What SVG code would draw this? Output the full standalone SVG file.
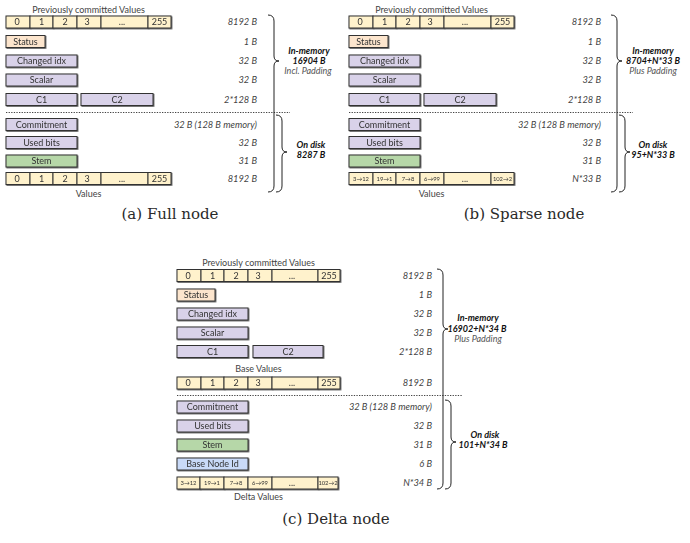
<svg xmlns="http://www.w3.org/2000/svg" width="690" height="543" viewBox="0 0 690 543">
<defs>
<filter id="sh" x="-5%" y="-20%" width="115%" height="150%"><feDropShadow dx="0.8" dy="0.8" stdDeviation="0" flood-color="#555"/></filter>
</defs>
<style>
rect{stroke:#333;stroke-width:1}
.y{fill:#fff2cc}.o{fill:#fce5cd}.p{fill:#d9d2e9}.g{fill:#b6d7a8}.b{fill:#c9daf8}
.box{filter:url(#sh)}
text{font-family:Lato,"DejaVu Sans",sans-serif;font-size:9px}
.bx{fill:#333;text-anchor:middle}
.sm{fill:#333;text-anchor:middle;font-size:5.8px}
.sz{fill:#444;font-style:italic;text-anchor:end;font-size:9.3px}
.lb{fill:#111;font-weight:bold;font-style:italic;text-anchor:middle}
.lp{fill:#555;font-style:italic;text-anchor:middle}
.tt{fill:#444;text-anchor:middle}
.cap{font-family:"DejaVu Serif",serif;font-size:15px;fill:#2a2a2a;text-anchor:middle}
.br{fill:none;stroke:#222;stroke-width:1}
.dot{stroke:#444;stroke-width:1;stroke-dasharray:1.3 1.3}
</style>

<!-- Panel (a) -->
<g id="panel-a">
<text class="tt" x="88.5" y="12.5">Previously committed Values</text>
<g id="a-prev" class="box">
<rect class="y" x="6" y="16" width="24" height="12"/><rect class="y" x="30" y="16" width="23" height="12"/><rect class="y" x="53" y="16" width="24" height="12"/><rect class="y" x="77" y="16" width="24" height="12"/><rect class="y" x="101" y="16" width="47" height="12"/><rect class="y" x="148" y="16" width="23" height="12"/>
<text class="bx" x="17" y="25.2">0</text><text class="bx" x="41.5" y="25.2">1</text><text class="bx" x="65" y="25.2">2</text><text class="bx" x="87" y="25.2">3</text><text class="bx" x="122" y="25.2">...</text><text class="bx" x="159.5" y="25.2">255</text>
</g>
<g id="a-status" class="box"><rect class="o" x="6" y="35.5" width="39" height="12"/><text class="bx" x="25.5" y="44.7">Status</text></g>
<g id="a-changed" class="box"><rect class="p" x="6" y="55" width="71" height="12"/><text class="bx" x="41.5" y="64.2">Changed idx</text></g>
<g id="a-scalar" class="box"><rect class="p" x="6" y="74" width="71" height="12"/><text class="bx" x="41.5" y="83.2">Scalar</text></g>
<g id="a-c1" class="box"><rect class="p" x="6" y="93.5" width="71" height="12"/><text class="bx" x="41.5" y="102.7">C1</text></g>
<g id="a-c2" class="box"><rect class="p" x="81" y="93.5" width="72" height="12"/><text class="bx" x="117" y="102.7">C2</text></g>
<g id="a-commit" class="box"><rect class="p" x="6" y="118.5" width="71" height="12"/><text class="bx" x="41.5" y="127.7">Commitment</text></g>
<g id="a-used" class="box"><rect class="p" x="6" y="136.5" width="71" height="12"/><text class="bx" x="41.5" y="145.7">Used bits</text></g>
<g id="a-stem" class="box"><rect class="g" x="6" y="155" width="71" height="12"/><text class="bx" x="41.5" y="164.2">Stem</text></g>
<g id="a-values" class="box">
<rect class="y" x="6" y="172.5" width="24" height="12"/><rect class="y" x="30" y="172.5" width="23" height="12"/><rect class="y" x="53" y="172.5" width="24" height="12"/><rect class="y" x="77" y="172.5" width="24" height="12"/><rect class="y" x="101" y="172.5" width="47" height="12"/><rect class="y" x="148" y="172.5" width="23" height="12"/>
<text class="bx" x="17" y="181.7">0</text><text class="bx" x="41.5" y="181.7">1</text><text class="bx" x="65" y="181.7">2</text><text class="bx" x="87" y="181.7">3</text><text class="bx" x="122" y="181.7">...</text><text class="bx" x="159.5" y="181.7">255</text>
</g>
<text class="tt" x="88.5" y="197">Values</text>
<g id="a-sizes">
<text class="sz" x="257" y="25.2">8192 B</text><text class="sz" x="257" y="44.7">1 B</text><text class="sz" x="257" y="64.2">32 B</text><text class="sz" x="257" y="83.2">32 B</text><text class="sz" x="257" y="102.7">2*128 B</text><text class="sz" x="257" y="127.7">32 B (128 B memory)</text><text class="sz" x="257" y="145.7">32 B</text><text class="sz" x="257" y="164.2">31 B</text><text class="sz" x="257" y="181.7">8192 B</text>
</g>
<g id="a-labels">
<text class="lb" x="309" y="54">In-memory</text><text class="lb" x="309" y="64">16904 B</text><text class="lp" x="308" y="74">Incl. Padding</text>
<text class="lb" x="311" y="148">On disk</text><text class="lb" x="311" y="158">8287 B</text>
</g>
<text class="cap" x="170" y="219">(a) Full node</text>
</g>

<!-- Panel (b) -->
<g id="panel-b" transform="translate(343,0)">
<text class="tt" x="88.5" y="12.5">Previously committed Values</text>
<g id="b-prev" class="box">
<rect class="y" x="6" y="16" width="24" height="12"/><rect class="y" x="30" y="16" width="23" height="12"/><rect class="y" x="53" y="16" width="24" height="12"/><rect class="y" x="77" y="16" width="24" height="12"/><rect class="y" x="101" y="16" width="47" height="12"/><rect class="y" x="148" y="16" width="23" height="12"/>
<text class="bx" x="17" y="25.2">0</text><text class="bx" x="41.5" y="25.2">1</text><text class="bx" x="65" y="25.2">2</text><text class="bx" x="87" y="25.2">3</text><text class="bx" x="122" y="25.2">...</text><text class="bx" x="159.5" y="25.2">255</text>
</g>
<g id="b-status" class="box"><rect class="o" x="6" y="35.5" width="39" height="12"/><text class="bx" x="25.5" y="44.7">Status</text></g>
<g id="b-changed" class="box"><rect class="p" x="6" y="55" width="71" height="12"/><text class="bx" x="41.5" y="64.2">Changed idx</text></g>
<g id="b-scalar" class="box"><rect class="p" x="6" y="74" width="71" height="12"/><text class="bx" x="41.5" y="83.2">Scalar</text></g>
<g id="b-c1" class="box"><rect class="p" x="6" y="93.5" width="71" height="12"/><text class="bx" x="41.5" y="102.7">C1</text></g>
<g id="b-c2" class="box"><rect class="p" x="81" y="93.5" width="72" height="12"/><text class="bx" x="117" y="102.7">C2</text></g>
<g id="b-commit" class="box"><rect class="p" x="6" y="118.5" width="71" height="12"/><text class="bx" x="41.5" y="127.7">Commitment</text></g>
<g id="b-used" class="box"><rect class="p" x="6" y="136.5" width="71" height="12"/><text class="bx" x="41.5" y="145.7">Used bits</text></g>
<g id="b-stem" class="box"><rect class="g" x="6" y="155" width="71" height="12"/><text class="bx" x="41.5" y="164.2">Stem</text></g>
<g id="b-values" class="box">
<rect class="y" x="6" y="172.5" width="24" height="12"/><rect class="y" x="30" y="172.5" width="23" height="12"/><rect class="y" x="53" y="172.5" width="24" height="12"/><rect class="y" x="77" y="172.5" width="24" height="12"/><rect class="y" x="101" y="172.5" width="47" height="12"/><rect class="y" x="148" y="172.5" width="23" height="12"/>
<text class="sm" x="18" y="180.8">3→12</text><text class="sm" x="41.5" y="180.8">19→1</text><text class="sm" x="65" y="180.8">7→8</text><text class="sm" x="89" y="180.8">6→99</text><text class="bx" x="122" y="181.7">...</text><text class="sm" x="159.5" y="180.8">102→2</text>
</g>
<text class="tt" x="88.5" y="197">Values</text>
<g id="b-sizes">
<text class="sz" x="258" y="25.2">8192 B</text><text class="sz" x="258" y="44.7">1 B</text><text class="sz" x="258" y="64.2">32 B</text><text class="sz" x="258" y="83.2">32 B</text><text class="sz" x="258" y="102.7">2*128 B</text><text class="sz" x="258" y="127.7">32 B (128 B memory)</text><text class="sz" x="258" y="145.7">32 B</text><text class="sz" x="258" y="164.2">31 B</text><text class="sz" x="258" y="181.7">N*33 B</text>
</g>
<g id="b-labels">
<text class="lb" x="310" y="54">In-memory</text><text class="lb" x="310" y="64">8704+N*33 B</text><text class="lp" x="310" y="74">Plus Padding</text>
<text class="lb" x="310" y="148">On disk</text><text class="lb" x="310" y="158">95+N*33 B</text>
</g>
<text class="cap" x="181" y="219">(b) Sparse node</text>
</g>

<!-- Panel (c) -->
<g id="panel-c">
<text class="tt" x="258.5" y="266">Previously committed Values</text>
<g id="c-prev" class="box">
<rect class="y" x="177" y="269.5" width="24" height="12"/><rect class="y" x="201" y="269.5" width="23" height="12"/><rect class="y" x="224" y="269.5" width="24" height="12"/><rect class="y" x="248" y="269.5" width="24" height="12"/><rect class="y" x="272" y="269.5" width="46" height="12"/><rect class="y" x="318" y="269.5" width="22" height="12"/>
<text class="bx" x="188" y="278.7">0</text><text class="bx" x="212.5" y="278.7">1</text><text class="bx" x="236" y="278.7">2</text><text class="bx" x="258" y="278.7">3</text><text class="bx" x="292" y="278.7">...</text><text class="bx" x="329" y="278.7">255</text>
</g>
<g id="c-status" class="box"><rect class="o" x="177" y="289" width="38" height="12"/><text class="bx" x="196" y="298.2">Status</text></g>
<g id="c-changed" class="box"><rect class="p" x="177" y="308" width="71" height="12"/><text class="bx" x="212.5" y="317.2">Changed idx</text></g>
<g id="c-scalar" class="box"><rect class="p" x="177" y="327" width="71" height="12"/><text class="bx" x="212.5" y="336.2">Scalar</text></g>
<g id="c-c1" class="box"><rect class="p" x="177" y="345.5" width="71" height="12"/><text class="bx" x="212.5" y="354.7">C1</text></g>
<g id="c-c2" class="box"><rect class="p" x="253" y="345.5" width="70" height="12"/><text class="bx" x="288" y="354.7">C2</text></g>
<text class="tt" x="258.5" y="372">Base Values</text>
<g id="c-base" class="box">
<rect class="y" x="177" y="377" width="24" height="12"/><rect class="y" x="201" y="377" width="23" height="12"/><rect class="y" x="224" y="377" width="24" height="12"/><rect class="y" x="248" y="377" width="24" height="12"/><rect class="y" x="272" y="377" width="46" height="12"/><rect class="y" x="318" y="377" width="22" height="12"/>
<text class="bx" x="188" y="386.2">0</text><text class="bx" x="212.5" y="386.2">1</text><text class="bx" x="236" y="386.2">2</text><text class="bx" x="258" y="386.2">3</text><text class="bx" x="292" y="386.2">...</text><text class="bx" x="329" y="386.2">255</text>
</g>
<g id="c-commit" class="box"><rect class="p" x="177" y="401" width="71" height="12"/><text class="bx" x="212.5" y="410.2">Commitment</text></g>
<g id="c-used" class="box"><rect class="p" x="177" y="420" width="71" height="12"/><text class="bx" x="212.5" y="429.2">Used bits</text></g>
<g id="c-stem" class="box"><rect class="g" x="177" y="439" width="71" height="12"/><text class="bx" x="212.5" y="448.2">Stem</text></g>
<g id="c-basenode" class="box"><rect class="b" x="177" y="458" width="71" height="12"/><text class="bx" x="212.5" y="467.2">Base Node Id</text></g>
<g id="c-delta" class="box">
<rect class="y" x="177" y="477" width="23" height="12"/><rect class="y" x="200" y="477" width="24" height="12"/><rect class="y" x="224" y="477" width="24" height="12"/><rect class="y" x="248" y="477" width="24" height="12"/><rect class="y" x="272" y="477" width="46" height="12"/><rect class="y" x="318" y="477" width="20" height="12"/>
<text class="sm" x="188.5" y="485.3">3→12</text><text class="sm" x="212" y="485.3">19→1</text><text class="sm" x="236" y="485.3">7→8</text><text class="sm" x="260" y="485.3">6→99</text><text class="bx" x="292" y="486.2">...</text><text class="sm" x="328" y="485.3">102→2</text>
</g>
<text class="tt" x="258.5" y="500">Delta Values</text>
<g id="c-sizes">
<text class="sz" x="432" y="278.7">8192 B</text><text class="sz" x="432" y="298.2">1 B</text><text class="sz" x="432" y="317.2">32 B</text><text class="sz" x="432" y="336.2">32 B</text><text class="sz" x="432" y="354.7">2*128 B</text><text class="sz" x="432" y="386.2">8192 B</text><text class="sz" x="432" y="410.2">32 B (128 B memory)</text><text class="sz" x="432" y="429.2">32 B</text><text class="sz" x="432" y="448.2">31 B</text><text class="sz" x="432" y="467.2">6 B</text><text class="sz" x="432" y="486.2">N*34 B</text>
</g>
<g id="c-labels">
<text class="lb" x="478" y="321">In-memory</text><text class="lb" x="477" y="331.5">16902+N*34 B</text><text class="lp" x="478" y="342">Plus Padding</text>
<text class="lb" x="485" y="438">On disk</text><text class="lb" x="483" y="448">101+N*34 B</text>
</g>
<text class="cap" x="336" y="524">(c) Delta node</text>
</g>

<!-- Connectors: braces and separators -->
<g id="connectors">
<line class="dot" x1="6" y1="112.5" x2="290" y2="112.5"/>
<line class="dot" x1="349" y1="112.5" x2="633" y2="112.5"/>
<line class="dot" x1="177" y1="395.5" x2="462" y2="395.5"/>
<path class="br" d="M268,15 Q274,15 274,21 L274,56 Q274,61 279,61 Q274,61 274,66 L274,186 Q274,192 268,192"/>
<path class="br" d="M276,115 Q282,115 282,121 L282,147 Q282,152 287,152 Q282,152 282,157 L282,186 Q282,192 276,192"/>
<path class="br" d="M611,15 Q617,15 617,21 L617,56 Q617,61 622,61 Q617,61 617,66 L617,186 Q617,192 611,192"/>
<path class="br" d="M619,115 Q625,115 625,121 L625,147 Q625,152 630,152 Q625,152 625,157 L625,186 Q625,192 619,192"/>
<path class="br" d="M437,269 Q443,269 443,275 L443,324 Q443,329 448,329 Q443,329 443,334 L443,483 Q443,489 437,489"/>
<path class="br" d="M445,400 Q451,400 451,406 L451,437 Q451,442 456,442 Q451,442 451,447 L451,483 Q451,489 445,489"/>
</g>
</svg>
